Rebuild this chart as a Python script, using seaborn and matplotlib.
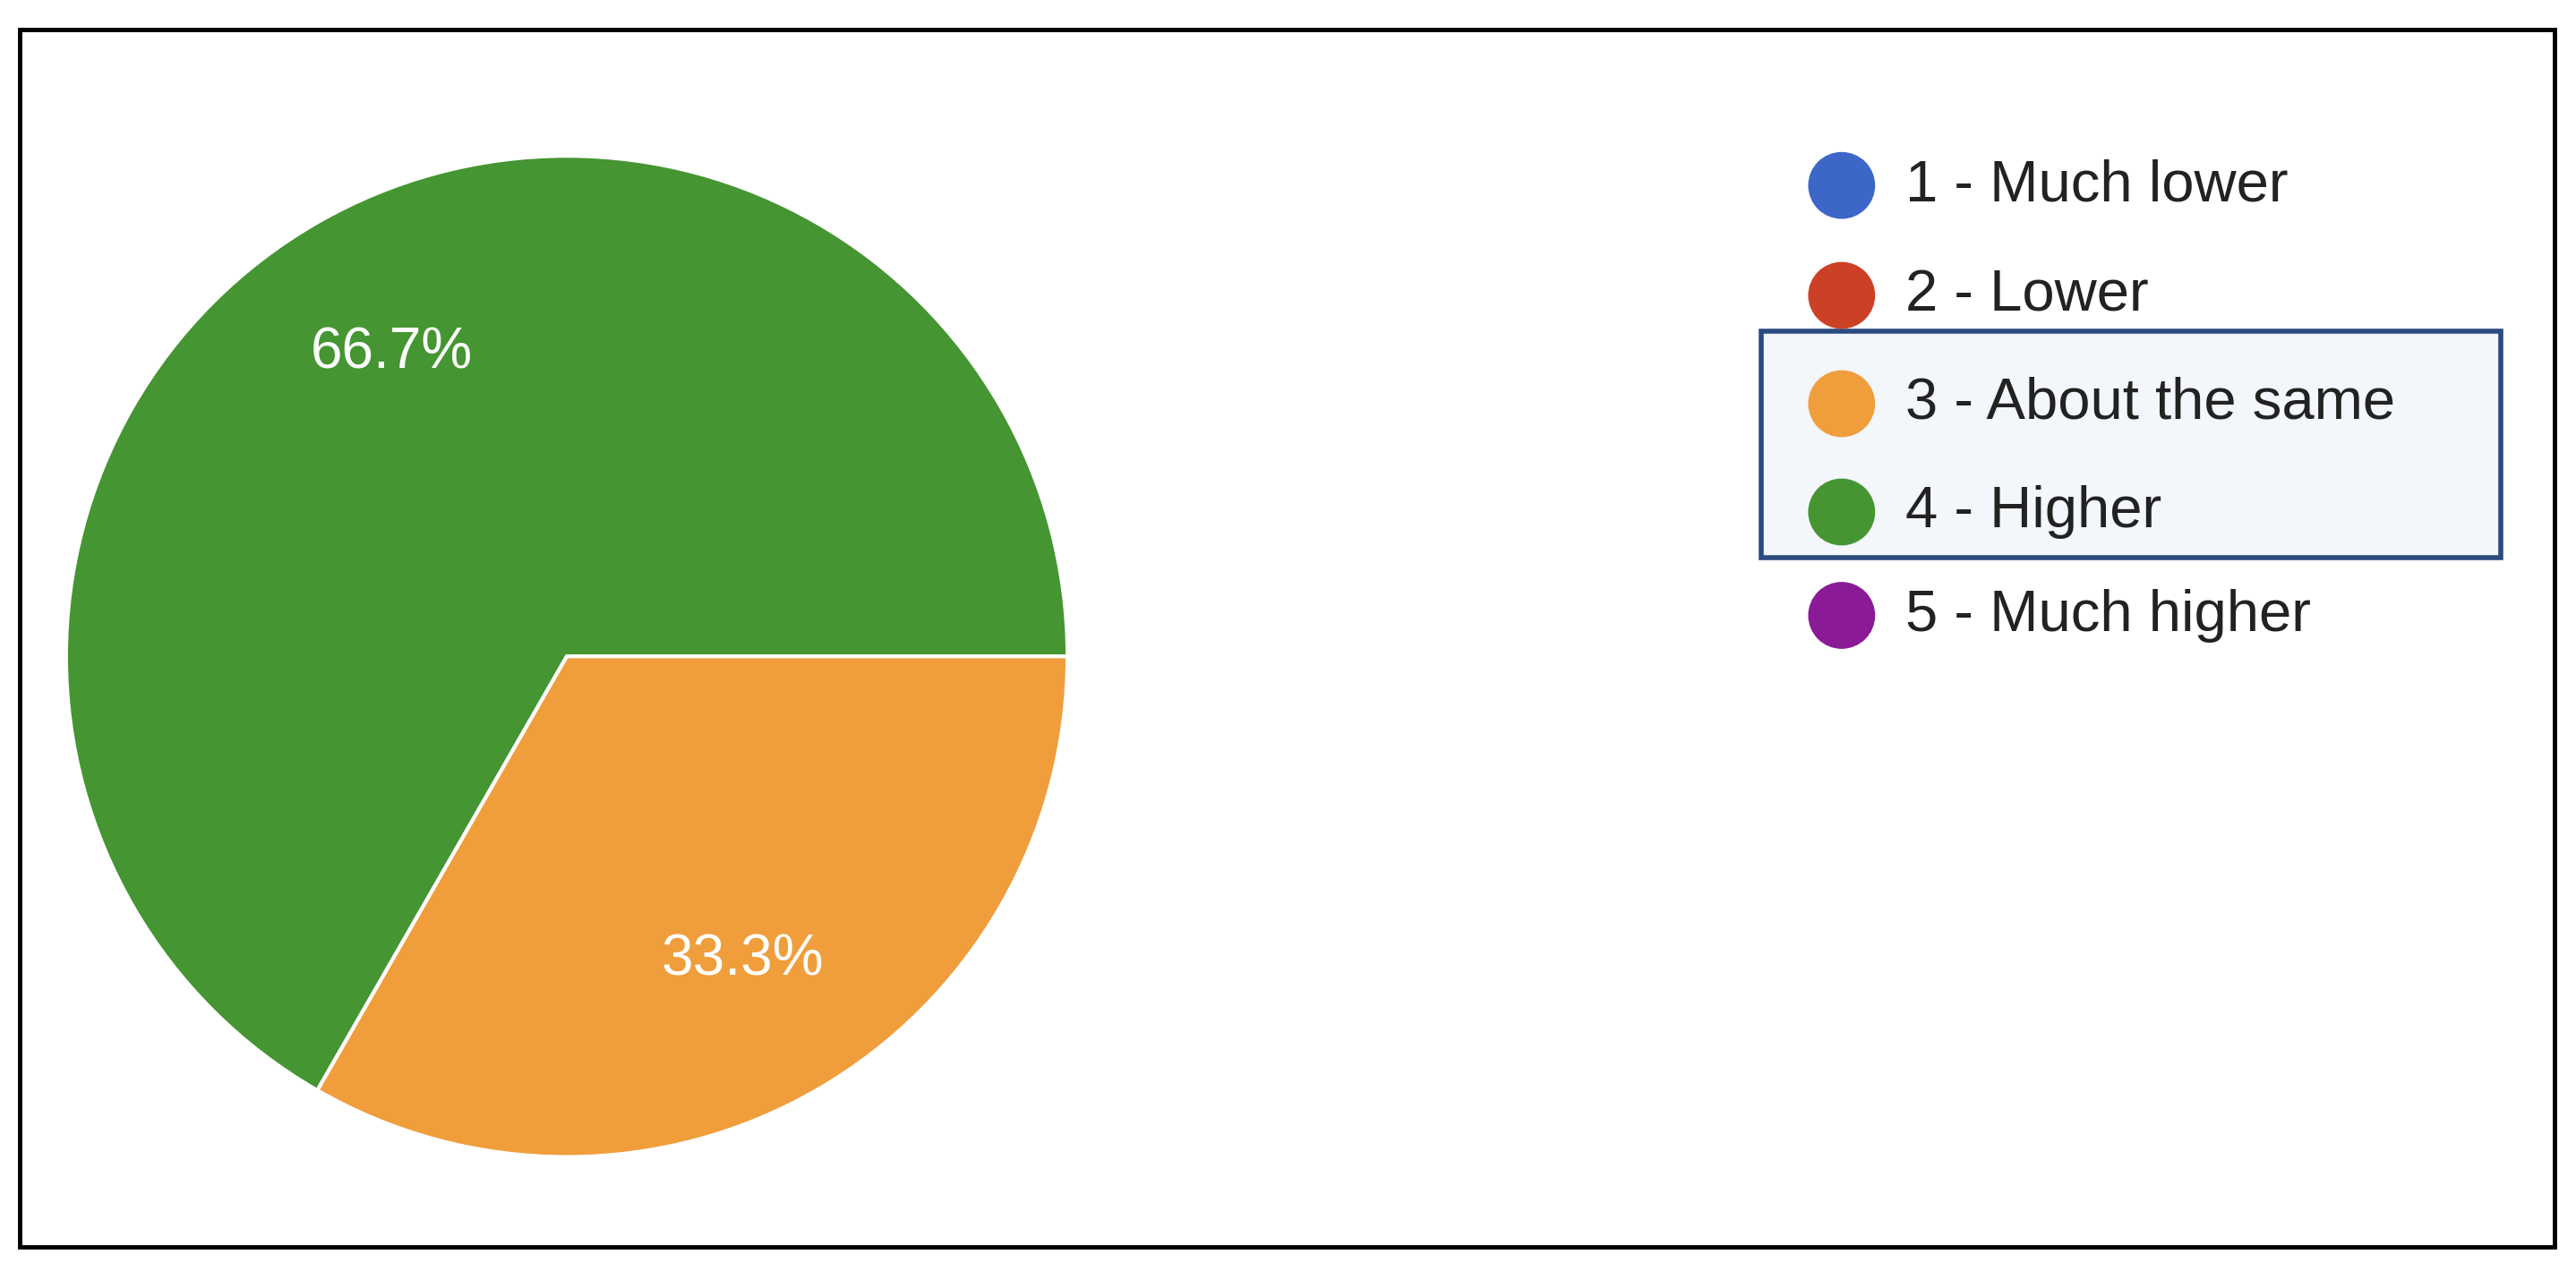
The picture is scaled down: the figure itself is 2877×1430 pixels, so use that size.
import matplotlib
matplotlib.use("Agg")
import matplotlib.pyplot as plt
import seaborn as sns
from matplotlib.patches import Rectangle, Circle

sns.set_theme(style="white")
plt.rcParams['font.family'] = ['Liberation Sans', 'DejaVu Sans']

categories = ["1 - Much lower", "2 - Lower", "3 - About the same", "4 - Higher", "5 - Much higher"]
values = [0, 0, 33.3, 66.7, 0]
colors = ["#3d66c9", "#cc4125", "#f09e3c", "#459532", "#8a1a96"]
highlighted = ["3 - About the same", "4 - Higher"]

fig = plt.figure(figsize=(28.77, 14.30), dpi=100)
fig.patch.set_facecolor("white")

ov = fig.add_axes([0, 0, 1, 1])
ov.set_xlim(0, 1568); ov.set_ylim(780, 0); ov.axis("off")
ov.add_patch(Rectangle((12, 18), 1543, 742, fill=False, ec="black", lw=3.5))

order = [3, 2]
pax = fig.add_axes([40/1568, 1-705/780, 610/1568, 610/780])
pax.pie([values[i] for i in order], colors=[colors[i] for i in order],
        startangle=0, counterclock=True, autopct="%.1f%%", pctdistance=0.70,
        wedgeprops=dict(edgecolor="white", linewidth=3),
        textprops=dict(color="white", fontsize=46))
pax.set_xlim(-1, 1); pax.set_ylim(-1, 1)
pax.set_aspect("equal")
pax.axis("off")

ys = [113, 180, 246, 312, 375]
hi = [i for i, c in enumerate(categories) if c in highlighted]
y0 = ys[hi[0]] - 44; y1 = ys[hi[-1]] + 28
ov.add_patch(Rectangle((1072, y0), 450, y1 - y0, fc="#f3f6fb", ec="#2b4a7f", lw=4, zorder=1))
for c, col, y in zip(categories, colors, ys):
    ov.add_patch(Circle((1121, y), 20, color=col, zorder=2))
    ov.text(1160, y, c, fontsize=47, color="#222222", va="center", ha="left", zorder=3)

fig.savefig("out.png", dpi=100)
